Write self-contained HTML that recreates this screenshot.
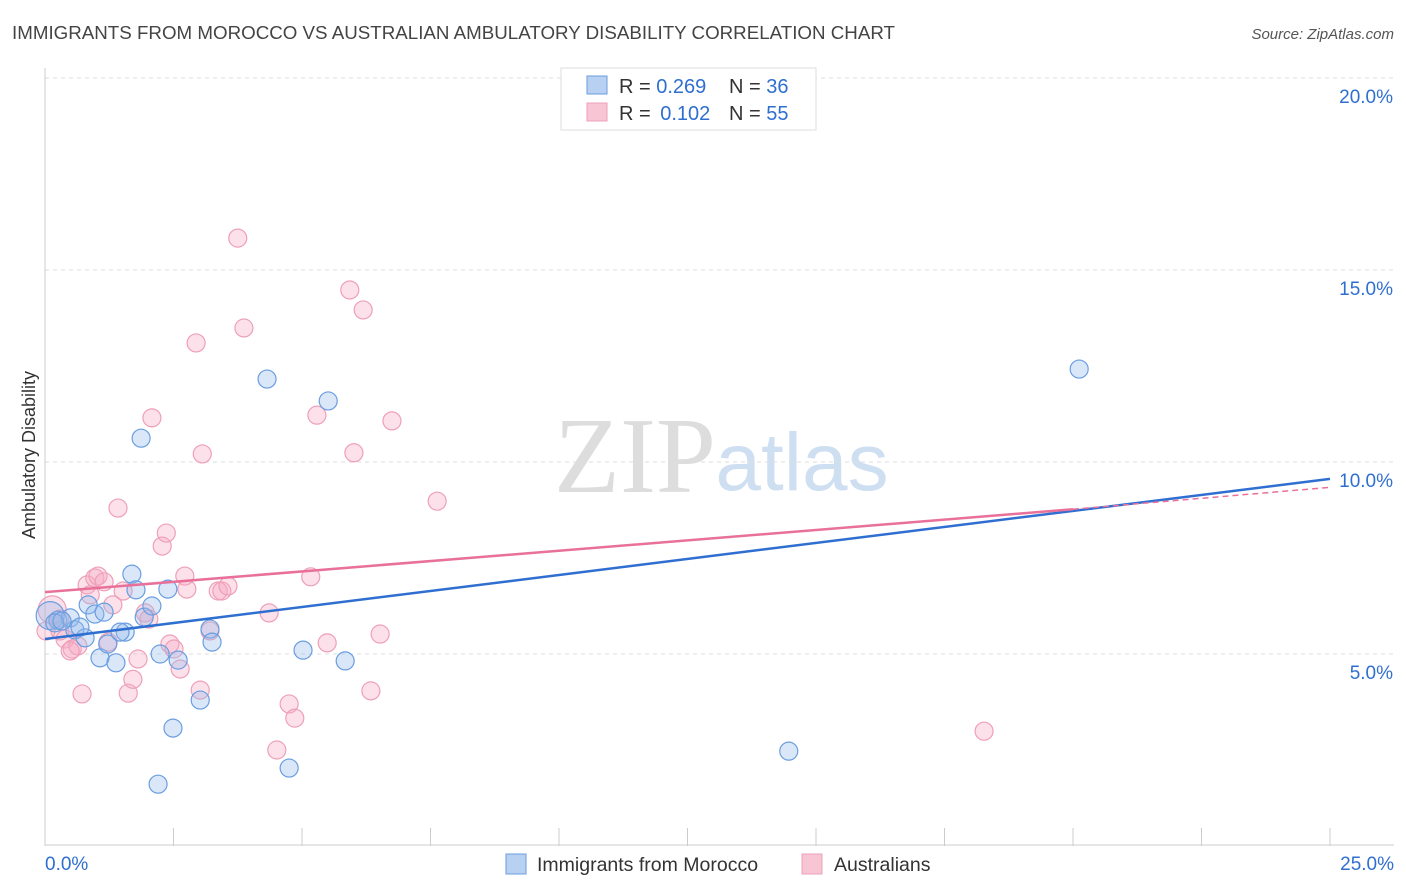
<!DOCTYPE html>
<html><head><meta charset="utf-8"><style>
body{margin:0;background:#fff;font-family:"Liberation Sans",sans-serif;}
svg{display:block}
</style></head><body>
<svg id="chart" width="1406" height="892">
<text x="12" y="39" font-size="18.5" fill="#444" textLength="883" lengthAdjust="spacingAndGlyphs">IMMIGRANTS FROM MOROCCO VS AUSTRALIAN AMBULATORY DISABILITY CORRELATION CHART</text>
<text x="1394" y="39" font-size="15" fill="#555" font-style="italic" text-anchor="end">Source: ZipAtlas.com</text>
<text x="35" y="455" font-size="18" fill="#333" text-anchor="middle" transform="rotate(-90 35 455)">Ambulatory Disability</text>
<g><text x="635" y="492" font-size="108" fill="#ddd" font-family="Liberation Serif,serif" text-anchor="middle">ZIP</text><text x="802" y="490" font-size="82" fill="#cfdff2" text-anchor="middle">atlas</text></g>
<g id="grid"></g><g id="axes"></g><g id="marks"></g><g id="lines"></g>
<g>
<rect x="561" y="68" width="255" height="62" fill="#fff" stroke="#ddd"/>
<rect x="587" y="76" width="20" height="18" fill="#b8d0f2" stroke="#6a9ee0"/>
<text x="619" y="93" font-size="20" fill="#333">R = <tspan fill="#2f6fd0">0.269</tspan></text>
<text x="729" y="93" font-size="20" fill="#333">N = <tspan fill="#2f6fd0">36</tspan></text>
<rect x="587" y="103" width="20" height="18" fill="#f8c5d5" stroke="#eea0b8"/>
<text x="619" y="120" font-size="20" fill="#333">R = <tspan fill="#2f6fd0" dx="4">0.102</tspan></text>
<text x="729" y="120" font-size="20" fill="#333">N = <tspan fill="#2f6fd0">55</tspan></text>
</g>
<g>
<rect x="506" y="854" width="20" height="20" fill="#b8d0f2" stroke="#6a9ee0"/>
<text x="537" y="871" font-size="19.5" fill="#333">Immigrants from Morocco</text>
<rect x="802" y="854" width="20" height="20" fill="#f8c5d5" stroke="#eea0b8"/>
<text x="834" y="871" font-size="19.5" fill="#333">Australians</text>
</g>
</svg>
<script>
const blueX=[0.1,0.25,0.49,0.84,0.97,0.58,0.78,1.07,1.38,1.22,1.56,1.69,1.77,1.93,2.08,2.24,2.39,2.59,3.02,2.49,2.2,3.21,3.25,1.87,4.32,5.51,5.02,4.75,5.84,14.47,20.12,1.46,0.19,1.15,0.33,0.68];
const blueY=[6.0,5.88,5.94,6.28,6.04,5.63,5.42,4.9,4.77,5.26,5.57,7.08,6.67,5.96,6.25,5.0,6.69,4.84,3.8,3.07,1.61,5.65,5.31,10.62,12.16,11.59,5.1,2.03,4.82,2.47,12.42,5.57,5.81,6.09,5.86,5.7];
const pinkX=[0.14,0.29,0.39,0.53,0.64,0.72,0.82,0.97,1.03,1.15,0.88,1.32,1.42,1.52,1.23,1.62,1.71,1.81,1.95,2.02,2.08,2.28,2.36,2.43,2.51,2.63,2.72,2.76,2.94,3.02,3.06,3.21,3.37,3.44,3.56,3.75,3.87,4.36,4.51,4.75,4.86,5.17,5.29,5.49,5.93,6.01,6.19,6.34,6.52,6.75,7.63,18.27,0.29,0.49,0.02];
const pinkY=[6.15,5.6,5.39,5.13,5.21,3.96,6.8,6.98,7.03,6.88,6.54,6.28,8.8,6.64,5.31,3.98,4.34,4.87,6.07,5.91,11.15,7.81,8.15,5.26,5.13,4.61,7.03,6.69,13.1,4.06,10.21,5.6,6.64,6.64,6.77,15.83,13.49,6.07,2.5,3.7,3.33,7.01,11.22,5.29,14.48,10.24,13.96,4.04,5.52,11.07,8.98,2.99,5.91,5.08,5.6];
const yTicks=[5,10,15,20];
const tickLabels=["5.0%","10.0%","15.0%","20.0%"];
const blueTrend=[5.39,9.56];
const pinkTrend=[6.61,8.77,9.34];
const NS="http://www.w3.org/2000/svg";
const sx=v=>45+v*51.4, sy=v=>846-v*38.4;
function mk(t,a,p){const e=document.createElementNS(NS,t);for(const k in a)e.setAttribute(k,a[k]);p.appendChild(e);return e;}
const grid=document.getElementById('grid'),axes=document.getElementById('axes'),marks=document.getElementById('marks'),lines=document.getElementById('lines');
yTicks.forEach((t,i)=>{
 const l=mk('line',{x1:45,x2:1394,y1:sy(t),y2:sy(t),stroke:'#ddd','stroke-dasharray':'4,4'},grid);
 
 
 const tx=mk('text',{x:1393,y:sy(t)+25,'font-size':19,fill:'#2f6fd0','text-anchor':'end'},axes);
 tx.textContent=tickLabels[i];
 
 
});
mk('line',{x1:45,x2:45,y1:68,y2:846,stroke:'#ccc'},axes);
mk('line',{x1:45,x2:1394,y1:845,y2:845,stroke:'#ccc'},axes);
for(let i=0;i<=10;i++){const t=mk('line',{x1:sx(i*2.5),x2:sx(i*2.5),y1:828,y2:846,stroke:'#ccc'},axes);
 
 }
let a=mk('text',{x:45,y:870,'font-size':19,fill:'#2f6fd0'},axes);a.textContent='0.0%';


a=mk('text',{x:1394,y:870,'font-size':19,fill:'#2f6fd0','text-anchor':'end'},axes);a.textContent='25.0%';


pinkX.forEach((x,i)=>{const c=mk('circle',{cx:sx(x),cy:sy(pinkY[i]),r:i==0?14:9,fill:'rgba(246,170,196,0.35)',stroke:'#eea0b8','stroke-width':1.2},marks);
 
 });
blueX.forEach((x,i)=>{const c=mk('circle',{cx:sx(x),cy:sy(blueY[i]),r:i==0?14:9,fill:'rgba(150,185,235,0.35)',stroke:'#6a9ee0','stroke-width':1.2},marks);
 
 });
let L=mk('line',{x1:sx(0),y1:sy(blueTrend[0]),x2:sx(25),y2:sy(blueTrend[1]),stroke:'#2f6fd0','stroke-width':2.5},lines);


L=mk('line',{x1:sx(0),y1:sy(pinkTrend[0]),x2:sx(20),y2:sy(pinkTrend[1]),stroke:'#e8709a','stroke-width':2.5},lines);


L=mk('line',{x1:sx(20),y1:sy(pinkTrend[1]),x2:sx(25),y2:sy(pinkTrend[2]),stroke:'#e8709a','stroke-width':1.5,'stroke-dasharray':'6,4'},lines);


</script>
</body></html>
